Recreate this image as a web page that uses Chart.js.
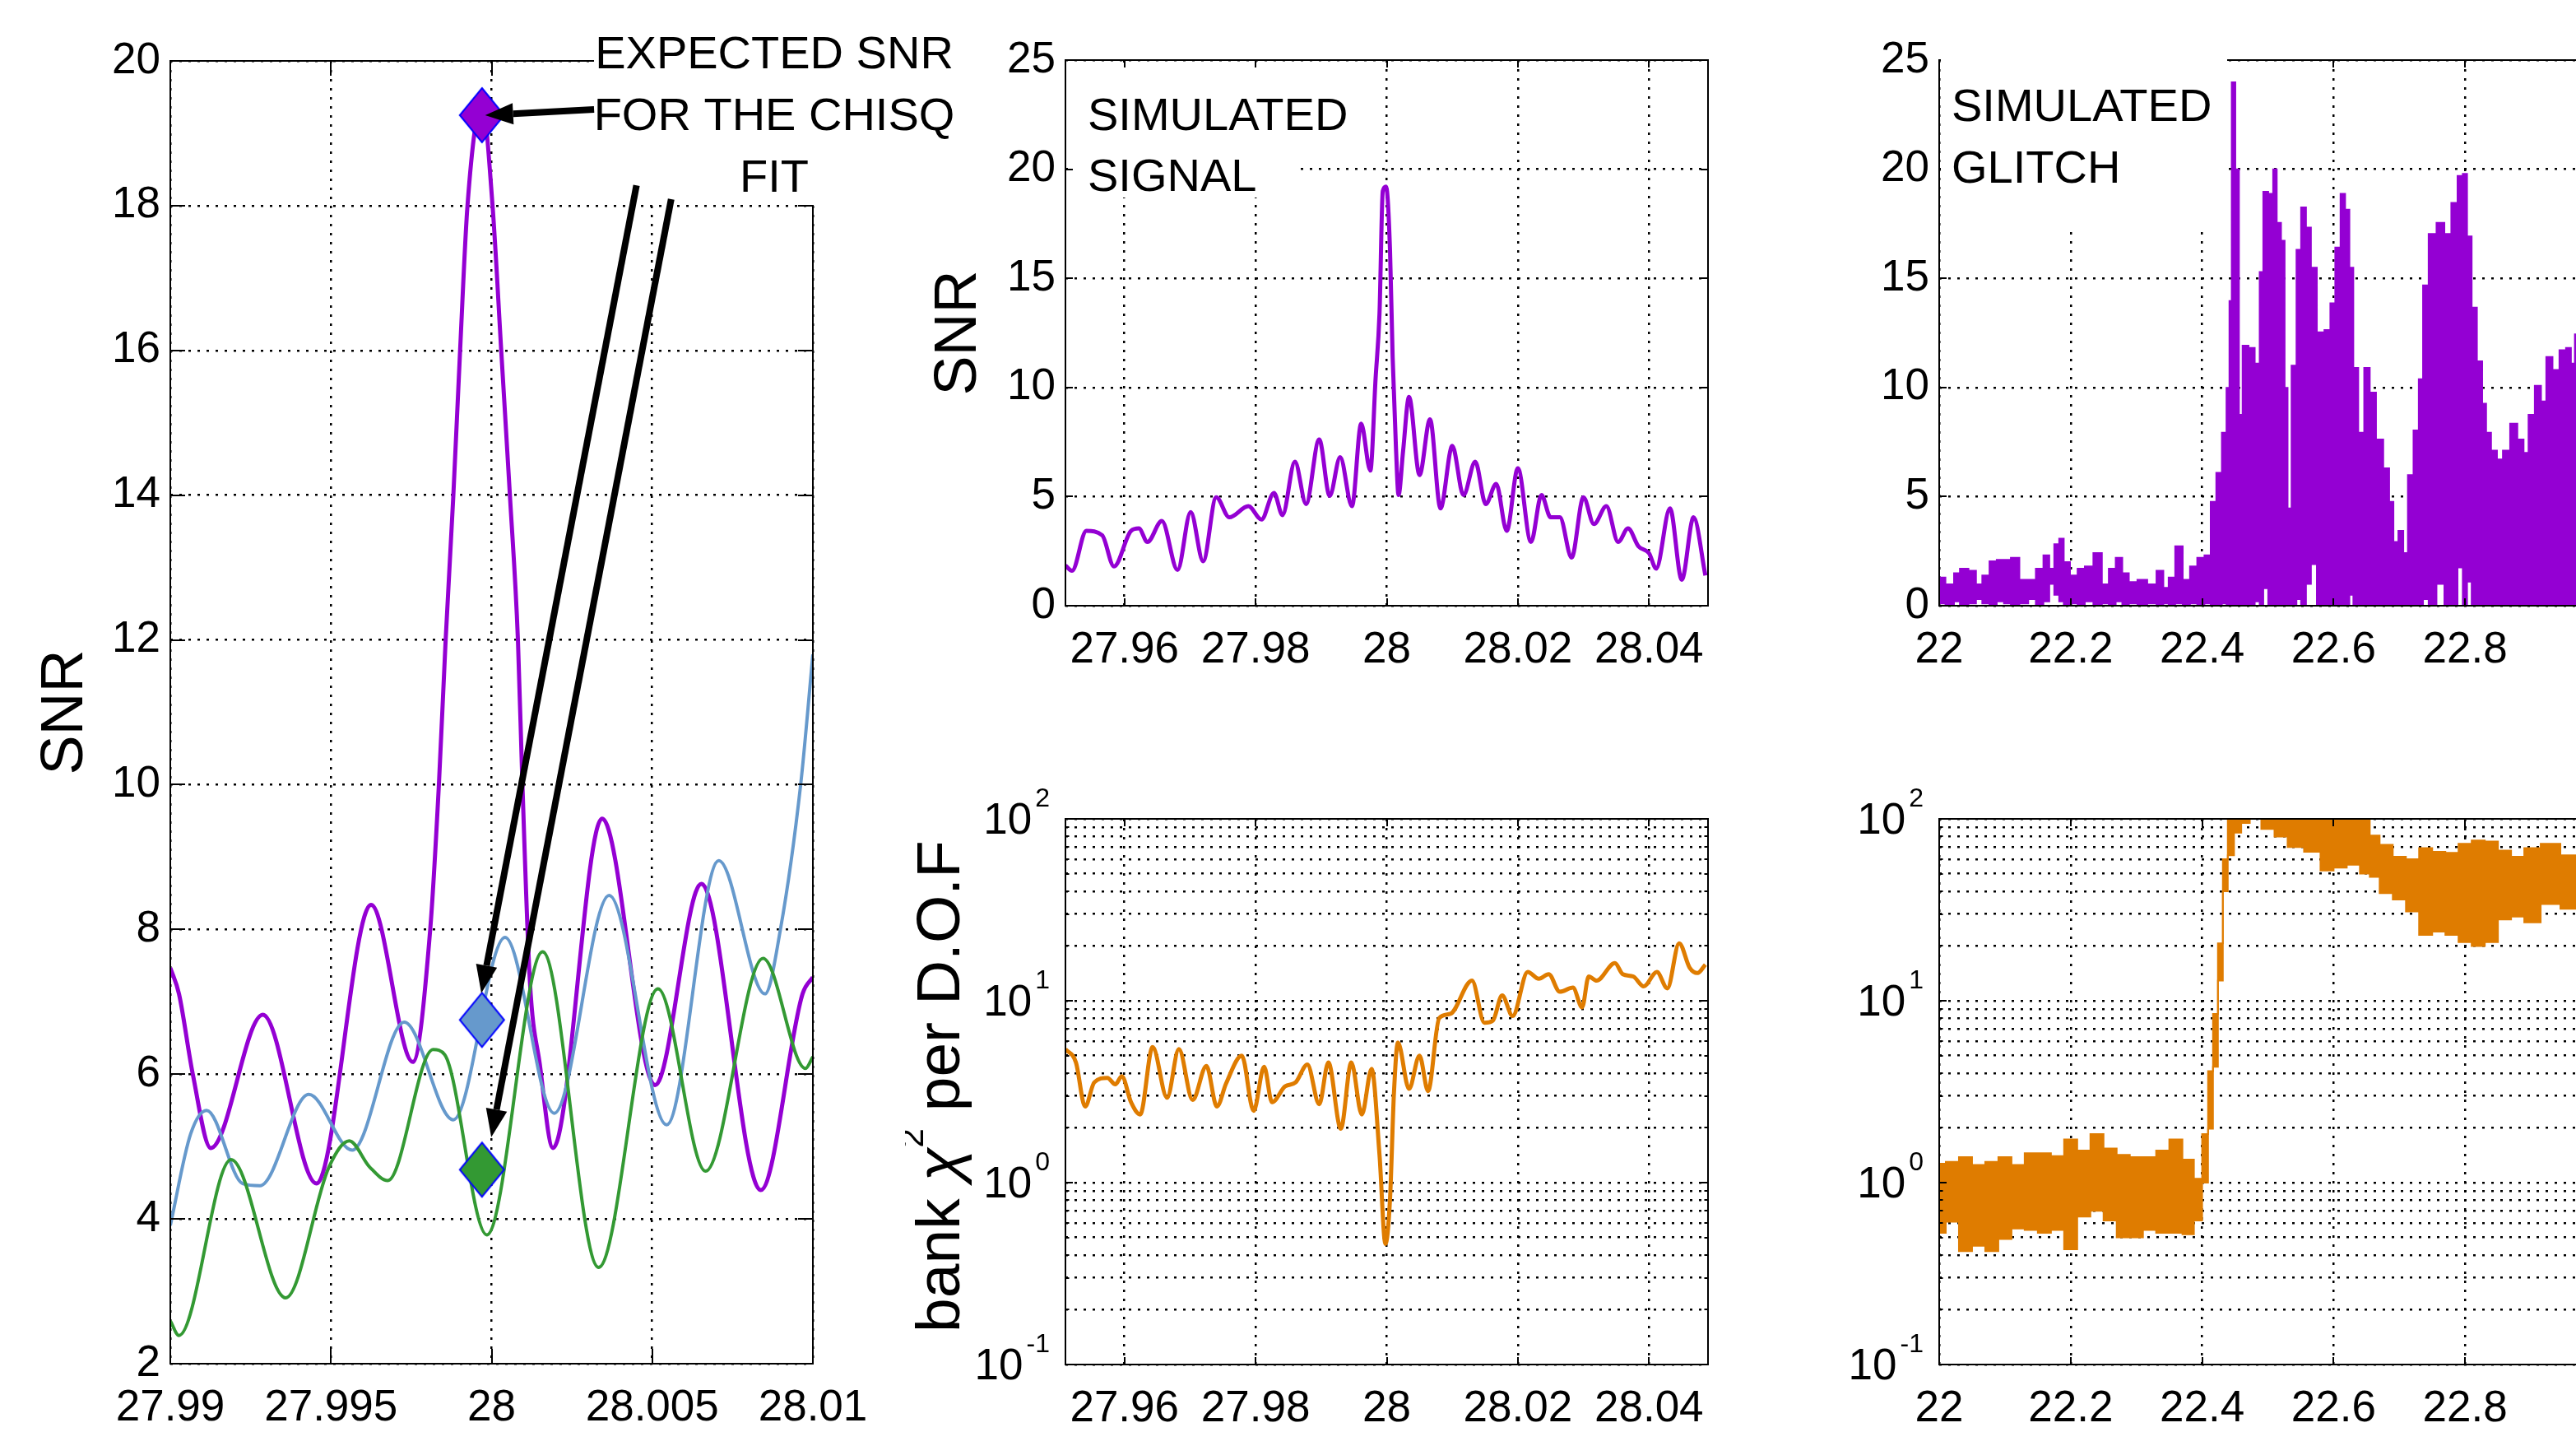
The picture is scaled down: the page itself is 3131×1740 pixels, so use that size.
<!DOCTYPE html>
<html>
<head>
<meta charset="utf-8">
<script src="https://cdn.jsdelivr.net/npm/chart.js@4"></script>
<style>
  html, body { margin: 0; padding: 0; background: #fff; overflow: hidden; width: 3131px; height: 1740px; }
  canvas { position: absolute; }
</style>
</head>
<body>
<canvas id="zoomChart" width="1200" height="1740" style="left:0;top:0"></canvas>
<canvas id="signalSnr" width="1031" height="870" style="left:1100px;top:0"></canvas>
<canvas id="signalChi" width="1031" height="870" style="left:1100px;top:870px"></canvas>
<canvas id="glitchSnr" width="1060" height="870" style="left:2150px;top:0"></canvas>
<canvas id="glitchChi" width="1060" height="870" style="left:2150px;top:870px"></canvas>
<script>
// ---- left panel: zoom on the trigger, three templates ----
const zoomPurpleT = [27.99000, 27.99027, 27.99070, 27.99126, 27.99288, 27.99455, 27.99625, 27.99755, 27.99809, 27.99836,
  27.99857, 27.99881, 27.99902, 27.99925, 27.99970, 28.00003, 28.00030, 28.00057, 28.00082, 28.00096,
  28.00119, 28.00150, 28.00191, 28.00344, 28.00509, 28.00653, 28.00838, 28.00968, 28.01000];
const zoomPurpleSnr = [7.47, 7.11, 6.0, 4.98, 6.82, 4.49, 8.34, 6.17, 8.0, 10.0,
  12.0, 14.0, 16.0, 18.0, 19.4, 18.0, 16.0, 14.0, 12.0, 10.0,
  7.3, 6.14, 4.98, 9.53, 5.85, 8.63, 4.40, 7.11, 7.34];
const zoomBlueT = [27.99000, 27.99063, 27.99113, 27.99225, 27.99279, 27.99431, 27.99566, 27.99728, 27.99881, 28.00042,
  28.00195, 28.00366, 28.00545, 28.00707, 28.00851, 28.00899, 28.00962, 28.01000];
const zoomBlueSnr = [3.91, 5.17, 5.50, 4.49, 4.46, 5.72, 4.95, 6.72, 5.37, 7.89,
  5.46, 8.47, 5.30, 8.95, 7.11, 8.0, 10.0, 11.8];
const zoomGreenT = [27.99000, 27.99027, 27.99189, 27.99359, 27.99494, 27.99557, 27.99620, 27.99677, 27.99818, 27.99854,
  27.99985, 28.00159, 28.00333, 28.00518, 28.00666, 28.00845, 28.00977, 28.01000];
const zoomGreenSnr = [2.59, 2.39, 4.82, 2.91, 4.72, 5.08, 4.72, 4.53, 6.34, 6.27,
  3.78, 7.69, 3.33, 7.18, 4.66, 7.60, 6.08, 6.24];
// expected SNR for the chisq fit (diamonds)
const fitT = [27.9997, 27.9997, 27.9997];
const fitSnr = [19.25, 6.75, 4.68];
// arrows of the annotation, in data units
const arrowFromT = [28.00319, 28.00451, 28.00559];
const arrowFromSnr = [19.33, 18.28, 18.09];
const arrowToT = [27.99980, 27.99968, 27.99999];
const arrowToSnr = [19.25, 7.12, 5.13];
const zoomTicksX = [27.99, 27.995, 28, 28.005, 28.01];
const zoomTicksY = [2, 4, 6, 8, 10, 12, 14, 16, 18, 20];

// ---- middle: simulated signal ----
const signalT = [27.9510, 27.9520, 27.9542, 27.9566, 27.9584, 27.9610, 27.9622, 27.9635, 27.9657, 27.9681,
  27.9701, 27.9720, 27.9740, 27.9760, 27.9789, 27.9809, 27.9828, 27.9841, 27.9860, 27.9877,
  27.9897, 27.9913, 27.9929, 27.9947, 27.9961, 27.9975, 27.9983, 27.9989, 27.9994, 27.9999,
  28.0005, 28.0009, 28.0014, 28.0018, 28.0025, 28.0034, 28.0050, 28.0066, 28.0082, 28.0100,
  28.0117, 28.0135, 28.0151, 28.0167, 28.0183, 28.0200, 28.0220, 28.0236, 28.0250, 28.0264,
  28.0282, 28.0300, 28.0316, 28.0335, 28.0353, 28.0368, 28.0384, 28.0400, 28.0411, 28.0432,
  28.0450, 28.0468, 28.0486];
const signalSnr = [1.84, 1.60, 3.43, 3.23, 1.80, 3.43, 3.54, 2.92, 3.88, 1.64,
  4.29, 2.04, 4.97, 4.05, 4.56, 3.95, 5.17, 4.15, 6.60, 4.66,
  7.62, 5.03, 6.81, 4.56, 8.34, 6.19, 10.4, 13.4, 19.0, 19.2,
  16.3, 11.4, 7.3, 5.07, 7.10, 9.57, 5.99, 8.54, 4.46, 7.32,
  5.07, 6.60, 4.66, 5.58, 3.43, 6.30, 2.92, 5.07, 4.05, 4.05,
  2.21, 4.97, 3.74, 4.56, 2.92, 3.54, 2.72, 2.41, 1.70, 4.46,
  1.19, 4.05, 1.39];
const signalChiT = [27.9510, 27.9526, 27.9540, 27.9554, 27.9574, 27.9586, 27.9596, 27.9610, 27.9624, 27.9643,
  27.9665, 27.9683, 27.9704, 27.9725, 27.9741, 27.9755, 27.9779, 27.9797, 27.9813, 27.9825,
  27.9845, 27.9861, 27.9879, 27.9897, 27.9911, 27.9930, 27.9946, 27.9962, 27.9977, 27.9989,
  27.9998, 28.0005, 28.0011, 28.0017, 28.0034, 28.0050, 28.0063, 28.0080, 28.0097, 28.0130,
  28.0149, 28.0162, 28.0176, 28.0192, 28.0215, 28.0232, 28.0247, 28.0264, 28.0284, 28.0298,
  28.0308, 28.0320, 28.0348, 28.0360, 28.0376, 28.0392, 28.0412, 28.0428, 28.0446, 28.0462,
  28.0474, 28.0486];
const signalChi = [5.42, 4.58, 2.62, 3.56, 3.77, 3.47, 3.84, 2.77, 2.37, 5.57,
  2.93, 5.42, 2.85, 4.38, 2.62, 3.51, 4.99, 2.48, 4.33, 2.77,
  3.38, 3.56, 4.46, 2.70, 4.58, 1.98, 4.58, 2.37, 4.22, 1.42,
  0.46, 0.81, 3.1, 5.89, 3.28, 4.99, 3.19, 8.02, 8.47, 12.9,
  7.57, 7.79, 10.7, 8.24, 14.4, 13.2, 14.0, 11.2, 11.8, 9.2,
  13.6, 12.9, 16.1, 14.0, 13.6, 12.0, 14.4, 11.7, 20.7, 15.2,
  14.2, 15.8];
const signalTicksX = [27.96, 27.98, 28, 28.02, 28.04];
const snrTicksY = [0, 5, 10, 15, 20, 25];

// ---- right: simulated glitch (upper / lower envelope of the dense trace) ----
const glitchT = [22.000, 22.019, 22.026, 22.037, 22.052, 22.060, 22.071, 22.082, 22.093, 22.104,
  22.114, 22.130, 22.141, 22.153, 22.164, 22.171, 22.179, 22.186, 22.193, 22.205,
  22.216, 22.227, 22.242, 22.253, 22.263, 22.274, 22.283, 22.294, 22.309, 22.324,
  22.337, 22.345, 22.353, 22.365, 22.376, 22.387, 22.398, 22.409, 22.417, 22.426,
  22.434, 22.440, 22.443, 22.447, 22.454, 22.458, 22.465, 22.476, 22.484, 22.491,
  22.495, 22.506, 22.510, 22.517, 22.523, 22.528, 22.532, 22.540, 22.547, 22.554,
  22.562, 22.569, 22.580, 22.592, 22.598, 22.607, 22.614, 22.621, 22.627, 22.633,
  22.642, 22.651, 22.659, 22.670, 22.681, 22.688, 22.694, 22.703, 22.709, 22.717,
  22.726, 22.733, 22.739, 22.750, 22.763, 22.774, 22.784, 22.793, 22.800, 22.806,
  22.814, 22.822, 22.830, 22.834, 22.845, 22.852, 22.863, 22.874, 22.885, 22.893,
  22.900, 22.912, 22.919, 22.928, 22.938, 22.949, 22.958, 22.964, 22.970, 22.990];
const glitchSnrHigh = [1.29, 0.98, 1.49, 1.70, 1.60, 0.98, 1.39, 2.04, 2.10, 2.10,
  2.20, 1.19, 1.19, 1.70, 2.31, 1.70, 2.82, 3.07, 2.00, 1.39,
  1.70, 1.80, 2.41, 0.98, 1.70, 2.20, 1.49, 1.08, 1.19, 0.98,
  1.60, 0.82, 1.29, 2.72, 1.19, 1.80, 2.20, 2.31, 4.76, 6.09,
  7.93, 9.98, 13.96, 23.98, 19.99, 8.75, 11.92, 11.81, 11.10, 15.29,
  18.97, 18.87, 19.99, 17.54, 16.72, 9.98, 4.46, 11.00, 16.31, 18.25,
  17.33, 15.49, 12.53, 12.63, 13.86, 16.41, 18.87, 18.15, 15.49, 10.90,
  7.93, 10.90, 9.77, 7.62, 6.30, 4.76, 2.92, 3.43, 2.41, 5.99,
  8.03, 10.38, 14.68, 17.03, 17.54, 17.03, 18.46, 19.69, 19.79, 16.92,
  13.66, 11.20, 9.26, 7.93, 7.11, 6.70, 7.11, 8.34, 7.62, 7.00,
  8.75, 10.08, 9.36, 11.40, 10.80, 11.71, 11.81, 11.10, 12.43, 12.00];
const glitchSnrLow = [0.10, 0.05, 0.20, 0.00, 0.10, 0.30, 0.10, 0.00, 0.20, 0.10,
  0.00, 0.10, 0.30, 0.00, 0.20, 1.00, 0.50, 0.20, 0.00, 0.10,
  0.00, 0.20, 0.00, 0.10, 0.00, 0.20, 0.00, 0.10, 0.00, 0.10,
  0.00, 0.10, 0.00, 0.10, 0.00, 0.10, 0.00, 0.10, 0.00, 0.00,
  0.10, 0.00, 0.00, 0.00, 0.00, 0.00, 0.00, 0.00, 0.20, 0.00,
  0.80, 0.00, 0.00, 0.00, 0.00, 0.00, 0.00, 0.00, 0.30, 0.00,
  1.00, 1.90, 0.00, 0.00, 0.00, 0.00, 0.00, 0.00, 0.50, 0.00,
  0.00, 0.00, 0.00, 0.00, 0.00, 0.00, 0.00, 0.00, 0.00, 0.00,
  0.00, 0.00, 0.30, 0.00, 1.00, 0.00, 0.00, 1.75, 0.00, 1.10,
  0.00, 0.00, 0.00, 0.00, 0.00, 0.00, 0.00, 0.00, 0.00, 0.00,
  0.00, 0.00, 0.00, 0.00, 0.00, 0.00, 0.00, 0.00, 0.00, 0.00];
const glitchChiT = [22.000, 22.020, 22.040, 22.060, 22.080, 22.100, 22.120, 22.140, 22.160, 22.180,
  22.200, 22.220, 22.240, 22.260, 22.280, 22.300, 22.320, 22.340, 22.360, 22.380,
  22.395, 22.405, 22.413, 22.420, 22.428, 22.435, 22.443, 22.454, 22.465, 22.480,
  22.500, 22.520, 22.540, 22.570, 22.590, 22.610, 22.630, 22.650, 22.660, 22.680,
  22.700, 22.720, 22.740, 22.760, 22.780, 22.800, 22.820, 22.840, 22.860, 22.880,
  22.900, 22.930, 22.960, 22.990];
const glitchChiHigh = [1.27, 1.30, 1.38, 1.25, 1.30, 1.38, 1.25, 1.45, 1.45, 1.40,
  1.73, 1.50, 1.85, 1.54, 1.42, 1.38, 1.38, 1.50, 1.73, 1.34,
  1.05, 1.85, 4.10, 8.47, 20.7, 60.0, 130, 130, 130, 130,
  130, 130, 130, 130, 130, 130, 130, 130, 81.0, 72.0,
  62.0, 60.0, 69.0, 66.0, 65.0, 73.0, 76.0, 75.0, 67.0, 62.0,
  69.0, 73.0, 63.0, 65.0];
const glitchChiLow = [0.53, 0.61, 0.42, 0.45, 0.42, 0.49, 0.56, 0.55, 0.53, 0.55,
  0.43, 0.65, 0.70, 0.62, 0.50, 0.50, 0.55, 0.53, 0.53, 0.52,
  0.62, 1.00, 1.98, 4.33, 12.9, 40.0, 63.0, 84.0, 95.0, 100,
  88.0, 80.0, 70.0, 66.0, 52.0, 54.0, 56.0, 50.0, 48.0, 39.0,
  36.0, 31.0, 23.0, 24.0, 23.0, 21.0, 20.0, 21.0, 28.0, 29.0,
  27.0, 34.0, 32.0, 33.0];
const glitchTicksX = [22, 22.2, 22.4, 22.6, 22.8];
const chiTicksY = [0.1, 0.2, 0.3, 0.4, 0.5, 0.6, 0.7, 0.8, 0.9,
  1, 2, 3, 4, 5, 6, 7, 8, 9, 10, 20, 30, 40, 50, 60, 70, 80, 90, 100];
const chiDecades = [-1, 0, 1, 2];

const PURPLE = '#9400d3', BLUE = '#6699cc', GREEN = '#339933', ORANGE = '#df7c00';
const FONT = '"Liberation Sans", Arial, Helvetica, sans-serif';
const pts = (xs, ys) => xs.map((x, i) => ({x: x, y: ys[i]}));
const line = {pointRadius: 0, fill: false, borderJoinStyle: 'round', cubicInterpolationMode: 'monotone'};

function axes(c) {
  const grid = () => ({color: '#000', lineWidth: 2.5, drawTicks: false});
  const border = () => ({display: false, dash: [3, 8]});
  return {
    x: {
      type: 'linear', min: c.xMin, max: c.xMax,
      afterBuildTicks: s => { s.ticks = c.xTicks.map(v => ({value: v})); },
      afterFit: s => { s.height = c.bottom; },
      grid: grid(), border: border(),
      ticks: {color: '#000', font: {family: FONT, size: 53}, padding: 23, autoSkip: false,
        maxRotation: 0, minRotation: 0, callback: v => String(v)}
    },
    y: {
      type: c.log ? 'logarithmic' : 'linear', min: c.yMin, max: c.yMax,
      afterBuildTicks: s => { s.ticks = c.yTicks.map(v => ({value: v})); },
      afterFit: s => { s.width = c.left; },
      grid: grid(), border: border(),
      ticks: {display: !c.log, color: '#000', font: {family: FONT, size: 53}, padding: 12,
        autoSkip: false, callback: v => String(v)},
      title: {display: !!c.title, text: c.title || '', color: '#000',
        font: {family: FONT, size: 72}, padding: {top: c.titlePad || 0, bottom: 0}}
    }
  };
}

function base(pad, scales) {
  return {
    responsive: false, animation: false, devicePixelRatio: 1, events: [],
    layout: {padding: pad},
    plugins: {legend: {display: false}, tooltip: {enabled: false}},
    scales: scales
  };
}

function arrow(ctx, x1, y1, x2, y2) {
  const a = Math.atan2(y2 - y1, x2 - x1), L = 34, W = 13;
  const bx = x2 - L * Math.cos(a), by = y2 - L * Math.sin(a);
  ctx.lineWidth = 8;
  ctx.beginPath(); ctx.moveTo(x1, y1); ctx.lineTo(bx, by); ctx.stroke();
  ctx.beginPath(); ctx.moveTo(x2, y2);
  ctx.lineTo(bx - W * Math.sin(a), by + W * Math.cos(a));
  ctx.lineTo(bx + W * Math.sin(a), by - W * Math.cos(a));
  ctx.closePath(); ctx.fill();
}

// frame, inward tick marks, log labels, white text boxes, arrows
function decor(d) {
  return {
    id: 'decor',
    afterDraw(chart) {
      const ctx = chart.ctx, a = chart.chartArea, sx = chart.scales.x, sy = chart.scales.y;
      ctx.save();
      ctx.strokeStyle = '#000'; ctx.fillStyle = '#000'; ctx.lineWidth = 2;
      ctx.beginPath();
      sx.ticks.forEach(t => {
        const p = Math.round(sx.getPixelForValue(t.value));
        ctx.moveTo(p, a.bottom); ctx.lineTo(p, a.bottom - d.tick);
        ctx.moveTo(p, a.top); ctx.lineTo(p, a.top + d.tick);
      });
      sy.ticks.forEach(t => {
        const p = Math.round(sy.getPixelForValue(t.value));
        const len = d.log && !chiDecades.some(e => Math.abs(Math.pow(10, e) - t.value) < 1e-9) ? d.tick / 2 : d.tick;
        ctx.moveTo(a.left, p); ctx.lineTo(a.left + len, p);
        ctx.moveTo(a.right, p); ctx.lineTo(a.right - len, p);
      });
      ctx.stroke();
      ctx.strokeRect(a.left, a.top, a.right - a.left, a.bottom - a.top);

      if (d.log) {
        chiDecades.forEach(e => {
          const y = sy.getPixelForValue(Math.pow(10, e));
          const ex = String(e);
          ctx.font = '32px ' + FONT; ctx.textAlign = 'right'; ctx.textBaseline = 'alphabetic';
          const ew = ctx.measureText(ex).width;
          ctx.fillText(ex, a.left - 19, y - 15);
          ctx.font = '53px ' + FONT; ctx.textBaseline = 'middle';
          ctx.fillText('10', a.left - 23 - ew, y + 3);
        });
      }

      if (d.box) {
        ctx.fillStyle = '#fff';
        ctx.fillRect(d.box[0], d.box[1], d.box[2], d.box[3]);
        ctx.fillStyle = '#000';
        ctx.font = '56px ' + FONT; ctx.textAlign = d.align; ctx.textBaseline = 'alphabetic';
        d.lines.forEach(l => ctx.fillText(l[0], l[1], l[2]));
      }

      if (d.arrows) {
        arrowFromT.forEach((t, i) => {
          arrow(ctx, sx.getPixelForValue(t), sy.getPixelForValue(arrowFromSnr[i]),
            sx.getPixelForValue(arrowToT[i]), sy.getPixelForValue(arrowToSnr[i]));
        });
      }

      if (d.chiTitle) {
        const parts = [['bank ', '75px', 0], ['\u03c7', 'italic 75px', 0], ['2', '42px', 44], [' per D.O.F', '75px', 0]];
        ctx.translate(d.chiTitle[0], d.chiTitle[1]);
        ctx.rotate(-Math.PI / 2);
        ctx.textAlign = 'left'; ctx.textBaseline = 'alphabetic';
        let total = 0;
        parts.forEach(p => { ctx.font = p[1] + ' ' + FONT; total += ctx.measureText(p[0]).width; });
        let x = -total / 2;
        parts.forEach(p => {
          ctx.font = p[1] + ' ' + FONT;
          ctx.fillText(p[0], x, -p[2]);
          x += ctx.measureText(p[0]).width;
        });
      }
      ctx.restore();
    }
  };
}

function diamond(fill) {
  const c = document.createElement('canvas');
  c.width = 58; c.height = 70;
  const g = c.getContext('2d');
  g.beginPath(); g.moveTo(29, 2); g.lineTo(56, 35); g.lineTo(29, 68); g.lineTo(2, 35); g.closePath();
  g.fillStyle = fill; g.fill();
  g.strokeStyle = '#0000ff'; g.lineWidth = 2; g.stroke();
  return c;
}

new Chart(document.getElementById('zoomChart'), {
  type: 'line',
  data: {datasets: [
    {data: pts(fitT, fitSnr), showLine: false, pointRadius: 30, pointStyle: [PURPLE, BLUE, GREEN].map(diamond)},
    {data: pts(zoomGreenT, zoomGreenSnr), borderColor: GREEN, borderWidth: 4, ...line},
    {data: pts(zoomBlueT, zoomBlueSnr), borderColor: BLUE, borderWidth: 4, ...line},
    {data: pts(zoomPurpleT, zoomPurpleSnr), borderColor: PURPLE, borderWidth: 5, ...line}
  ]},
  options: base({left: 0, top: 74, right: 212, bottom: 0}, axes({
    xMin: 27.99, xMax: 28.01, xTicks: zoomTicksX, yMin: 2, yMax: 20, yTicks: zoomTicksY,
    left: 207, bottom: 83, title: 'SNR', titlePad: 37
  })),
  plugins: [decor({tick: 18, box: [722, 25, 445, 224], align: 'center',
    lines: [['EXPECTED SNR', 941, 83], ['FOR THE CHISQ', 941, 158], ['FIT', 941, 233]], arrows: true})]
});

new Chart(document.getElementById('signalSnr'), {
  type: 'line',
  data: {datasets: [{data: pts(signalT, signalSnr), borderColor: PURPLE, borderWidth: 5, ...line}]},
  options: base({left: 0, top: 73, right: 55, bottom: 0}, axes({
    xMin: 27.951, xMax: 28.049, xTicks: signalTicksX, yMin: 0, yMax: 25, yTicks: snrTicksY,
    left: 195, bottom: 134, title: 'SNR', titlePad: 23
  })),
  plugins: [decor({tick: 9, box: [205, 82, 273, 158], align: 'left',
    lines: [['SIMULATED', 222, 158], ['SIGNAL', 222, 232]]})]
});

new Chart(document.getElementById('signalChi'), {
  type: 'line',
  data: {datasets: [{data: pts(signalChiT, signalChi), borderColor: ORANGE, borderWidth: 5, ...line}]},
  options: base({left: 0, top: 125, right: 55, bottom: 0}, axes({
    xMin: 27.951, xMax: 28.049, xTicks: signalTicksX, yMin: 0.1, yMax: 100, yTicks: chiTicksY,
    log: true, left: 195, bottom: 82
  })),
  plugins: [decor({tick: 9, log: true, chiTitle: [66, 450]})]
});

new Chart(document.getElementById('glitchSnr'), {
  type: 'line',
  data: {datasets: [
    {data: pts(glitchT, glitchSnrHigh), borderColor: PURPLE, backgroundColor: PURPLE, borderWidth: 2,
      pointRadius: 0, stepped: 'middle', fill: '+1'},
    {data: pts(glitchT, glitchSnrLow), borderColor: PURPLE, borderWidth: 2, pointRadius: 0,
      stepped: 'middle', fill: false}
  ]},
  options: base({left: 0, top: 73, right: 54, bottom: 0}, axes({
    xMin: 22, xMax: 23, xTicks: glitchTicksX, yMin: 0, yMax: 25, yTicks: snrTicksY,
    left: 207, bottom: 134
  })),
  plugins: [decor({tick: 9, box: [209, 45, 348, 235], align: 'left',
    lines: [['SIMULATED', 222, 147], ['GLITCH', 222, 222]]})]
});

new Chart(document.getElementById('glitchChi'), {
  type: 'line',
  data: {datasets: [
    {data: pts(glitchChiT, glitchChiHigh), borderColor: ORANGE, backgroundColor: ORANGE, borderWidth: 2,
      pointRadius: 0, stepped: 'middle', fill: '+1'},
    {data: pts(glitchChiT, glitchChiLow), borderColor: ORANGE, borderWidth: 2, pointRadius: 0,
      stepped: 'middle', fill: false}
  ]},
  options: base({left: 0, top: 125, right: 54, bottom: 0}, axes({
    xMin: 22, xMax: 23, xTicks: glitchTicksX, yMin: 0.1, yMax: 100, yTicks: chiTicksY,
    log: true, left: 207, bottom: 82
  })),
  plugins: [decor({tick: 9, log: true})]
});
</script>
</body>
</html>
